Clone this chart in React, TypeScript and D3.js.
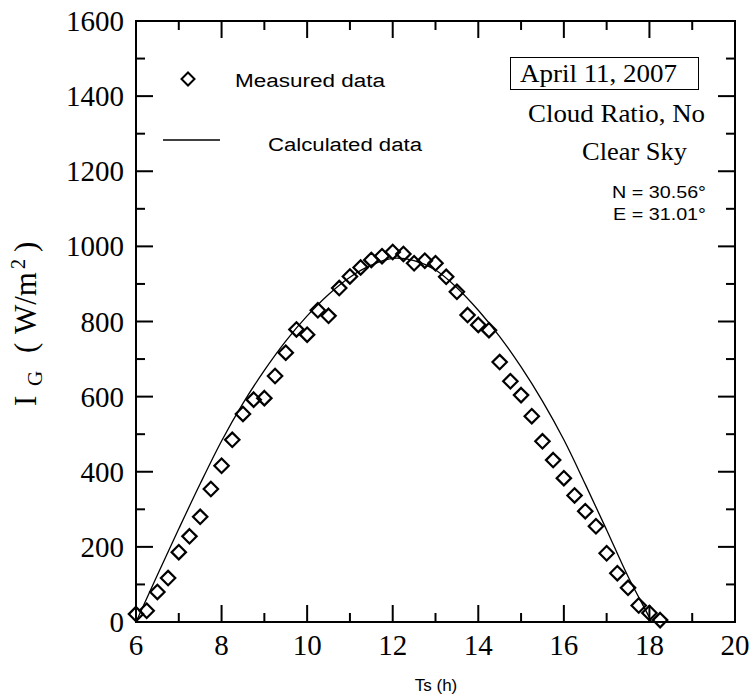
import React from 'react';
import * as d3 from 'd3';

// Measured global irradiance (W/m²) by solar time (h)
const measuredHours = [
  6, 6.25, 6.5, 6.75, 7, 7.25, 7.5, 7.75, 8, 8.25, 8.5, 8.75, 9, 9.25, 9.5, 9.75,
  10, 10.25, 10.5, 10.75, 11, 11.25, 11.5, 11.75, 12, 12.25, 12.5, 12.75, 13, 13.25,
  13.5, 13.75, 14, 14.25, 14.5, 14.75, 15, 15.25, 15.5, 15.75, 16, 16.25, 16.5, 16.75,
  17, 17.25, 17.5, 17.75, 18, 18.25,
];
const measuredValues = [
  21, 30, 80, 117, 186, 228, 280, 354, 416, 485, 554, 592, 596, 655, 717, 779,
  765, 830, 815, 889, 920, 944, 964, 974, 985, 980, 955, 962, 955, 919,
  879, 817, 791, 777, 692, 641, 604, 548, 481, 431, 383, 337, 295, 255,
  183, 130, 91, 44, 24, 5,
];

// Calculated global irradiance (W/m²)
const calcHours = [
  6, 6.5, 7, 7.5, 8, 8.5, 9, 9.5, 10, 10.5, 11, 11.5, 12, 12.5, 13, 13.5, 14, 14.5,
  15, 15.5, 16, 16.5, 17, 17.5, 18, 18.05,
];
const calcValues = [
  0, 125, 248, 368, 482, 582, 670, 748, 815, 872, 918, 950, 968, 962, 937, 890, 830, 760,
  679, 588, 485, 367, 245, 121, 12, 0,
];

const xTickValues = [6, 8, 10, 12, 14, 16, 18, 20];
const xMinorValues = [7, 9, 11, 13, 15, 17, 19];
const yTickValues = [0, 200, 400, 600, 800, 1000, 1200, 1400, 1600];
const yMinorValues = [100, 300, 500, 700, 900, 1100, 1300, 1500];

const SERIF = '"Liberation Serif", "Times New Roman", serif';
const SANS = '"Liberation Sans", Arial, sans-serif';

const diamond = (r: number) => `M0,${-r}L${r},0L0,${r}L${-r},0Z`;

export default function App() {
  const W = 756;
  const H = 699;
  const x = d3.scaleLinear().domain([6, 20]).range([136, 735]);
  const y = d3.scaleLinear().domain([0, 1600]).range([622, 21]);
  const [x0, x1] = x.range();
  const [y0, y1] = y.range();

  const majorLen = 17;
  const minorLen = 9;

  const calcPoints: [number, number][] = calcHours.map((h, i) => [h, calcValues[i]]);
  const linePath = d3
    .line<[number, number]>()
    .x((d) => x(d[0]))
    .y((d) => y(d[1]))
    .curve(d3.curveCatmullRom.alpha(0.5))(calcPoints) as string;

  return (
    <svg
      width={W}
      height={H}
      viewBox={`0 0 ${W} ${H}`}
      style={{ position: 'absolute', left: 0, top: 0, background: '#fff' }}
    >
      <rect x={0} y={0} width={W} height={H} fill="#fff" />

      {/* calculated curve */}
      <path d={linePath} fill="none" stroke="#000" strokeWidth={1.3} />

      {/* measured points */}
      {measuredHours.map((h, i) => (
        <path
          key={i}
          d={diamond(7.2)}
          transform={`translate(${x(h)},${y(measuredValues[i])})`}
          fill="none"
          stroke="#000"
          strokeWidth={2.2}
        />
      ))}

      {/* frame */}
      <rect x={x0} y={y1} width={x1 - x0} height={y0 - y1} fill="none" stroke="#000" strokeWidth={2} />

      {/* x ticks (bottom and top) */}
      {xTickValues.map((v) => (
        <g key={`xm${v}`}>
          <line x1={x(v)} x2={x(v)} y1={y0} y2={y0 - majorLen} stroke="#000" strokeWidth={2} />
          <line x1={x(v)} x2={x(v)} y1={y1} y2={y1 + majorLen} stroke="#000" strokeWidth={2} />
          <text x={x(v)} y={655} textAnchor="middle" fontFamily={SERIF} fontSize={29} fill="#000">
            {v}
          </text>
        </g>
      ))}
      {xMinorValues.map((v) => (
        <g key={`xn${v}`}>
          <line x1={x(v)} x2={x(v)} y1={y0} y2={y0 - minorLen} stroke="#000" strokeWidth={2} />
          <line x1={x(v)} x2={x(v)} y1={y1} y2={y1 + minorLen} stroke="#000" strokeWidth={2} />
        </g>
      ))}

      {/* y ticks (left and right) */}
      {yTickValues.map((v) => (
        <g key={`ym${v}`}>
          <line x1={x0} x2={x0 + majorLen} y1={y(v)} y2={y(v)} stroke="#000" strokeWidth={2} />
          <line x1={x1} x2={x1 - majorLen} y1={y(v)} y2={y(v)} stroke="#000" strokeWidth={2} />
          <text x={124} y={y(v) + 10} textAnchor="end" fontFamily={SERIF} fontSize={29} fill="#000">
            {v}
          </text>
        </g>
      ))}
      {yMinorValues.map((v) => (
        <g key={`yn${v}`}>
          <line x1={x0} x2={x0 + minorLen} y1={y(v)} y2={y(v)} stroke="#000" strokeWidth={2} />
          <line x1={x1} x2={x1 - minorLen} y1={y(v)} y2={y(v)} stroke="#000" strokeWidth={2} />
        </g>
      ))}

      {/* axis titles */}
      <text x={436} y={691} textAnchor="middle" fontFamily={SANS} fontSize={17} fill="#000">
        Ts (h)
      </text>
      <g transform="translate(36,406) rotate(-90)" fontFamily={SERIF} fill="#000">
        <text x={0} y={0} fontSize={31}>I</text>
        <text x={20} y={6} fontSize={21}>G</text>
        <text x={53} y={0} fontSize={31}>(</text>
        <text x={72} y={0} fontSize={31}>W/m</text>
        <text x={137} y={-11} fontSize={20}>2</text>
        <text x={154} y={0} fontSize={31}>)</text>
      </g>

      {/* legend */}
      <path d={diamond(6.5)} transform="translate(188,79)" fill="none" stroke="#000" strokeWidth={2} />
      <text x={235} y={87} fontFamily={SANS} fontSize={18} textLength={150} lengthAdjust="spacingAndGlyphs" fill="#000">
        Measured data
      </text>
      <line x1={163} x2={220} y1={140} y2={140} stroke="#000" strokeWidth={1.3} />
      <text x={268} y={151} fontFamily={SANS} fontSize={18} textLength={154} lengthAdjust="spacingAndGlyphs" fill="#000">
        Calculated data
      </text>

      {/* annotations */}
      <rect x={510.5} y={57.5} width={188} height={32} fill="#fff" stroke="#000" strokeWidth={1} />
      <text x={520} y={82} fontFamily={SERIF} fontSize={26} textLength={157} lengthAdjust="spacingAndGlyphs" fill="#000">
        April 11, 2007
      </text>
      <text x={528} y={122} fontFamily={SERIF} fontSize={26} textLength={177} lengthAdjust="spacingAndGlyphs" fill="#000">
        Cloud Ratio, No
      </text>
      <text x={582} y={160} fontFamily={SERIF} fontSize={26} textLength={105} lengthAdjust="spacingAndGlyphs" fill="#000">
        Clear Sky
      </text>
      <text x={612} y={198} fontFamily={SANS} fontSize={17} textLength={94} lengthAdjust="spacingAndGlyphs" fill="#000">
        N = 30.56°
      </text>
      <text x={613} y={220} fontFamily={SANS} fontSize={17} textLength={93} lengthAdjust="spacingAndGlyphs" fill="#000">
        E = 31.01°
      </text>
    </svg>
  );
}
